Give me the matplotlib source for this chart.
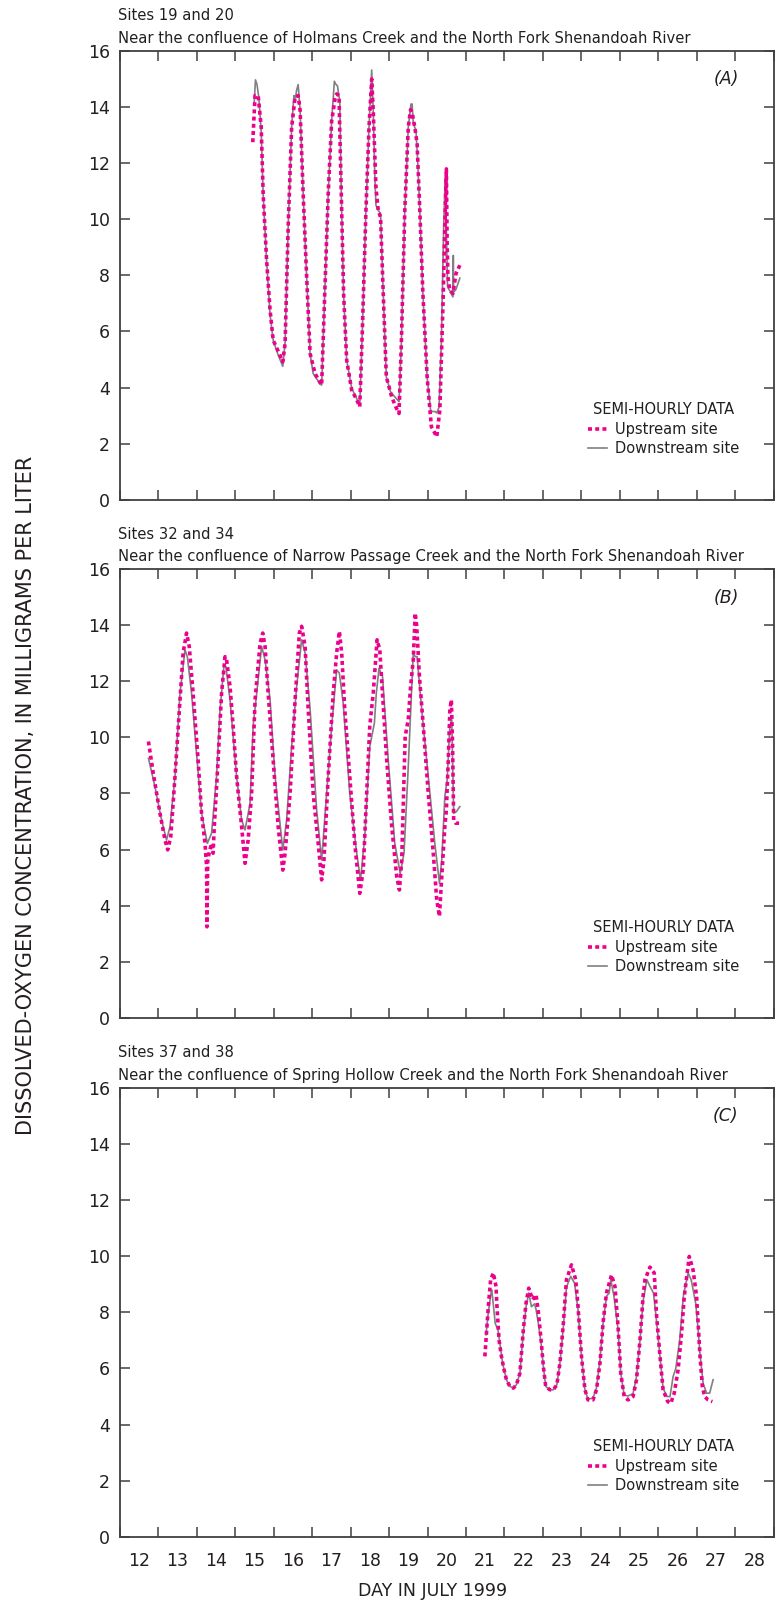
import numpy as np
import matplotlib
matplotlib.use("Agg")
from matplotlib import pyplot as plt
from matplotlib import font_manager as fm

# ---- data: day in July 1999, dissolved oxygen mg/L ----
a_up_t = [15.46, 15.52, 15.60, 15.68, 15.73, 15.82, 15.91, 15.99, 16.12, 16.20, 16.24, 16.30, 16.38, 16.47, 16.56,
          16.64, 16.69, 16.77, 16.86, 16.95, 17.08, 17.20, 17.25, 17.33, 17.42, 17.51, 17.60, 17.64, 17.70, 17.76,
          17.82, 17.90, 18.03, 18.15, 18.24, 18.31, 18.40, 18.48, 18.55, 18.59, 18.66, 18.72, 18.78, 18.85, 18.93,
          19.07, 19.18, 19.26, 19.32, 19.41, 19.50, 19.56, 19.60, 19.67, 19.73, 19.80, 19.88, 19.99, 20.10, 20.24,
          20.32, 20.41, 20.45, 20.49, 20.51, 20.53, 20.58, 20.66, 20.74, 20.84]
a_up_v = [12.74, 14.4, 14.4, 13.27, 10.9, 8.53, 6.76, 5.69, 5.3, 5.05, 4.92, 5.57, 9.72, 13.27, 14.34,
          14.4, 13.87, 10.9, 7.94, 5.21, 4.5, 4.2, 4.09, 7.35, 10.9, 13.5, 14.3, 14.46, 14.4, 10.9,
          7.35, 4.98, 3.91, 3.6, 3.32, 6.16, 10.3, 13.27, 14.99, 13.87, 11.14, 10.31, 10.07, 7.35, 4.38,
          3.67, 3.3, 3.08, 5.57, 10.31, 13.27, 13.9, 13.8, 13.27, 12.68, 10.31, 7.35, 4.38, 2.61, 2.25,
          3.2, 7.35, 9.72, 11.79, 9.13, 7.94, 7.47, 7.35, 8.06, 8.36]
a_dn_t = [15.50, 15.53, 15.57, 15.62, 15.68, 15.73, 15.82, 15.91, 15.99, 16.12, 16.24, 16.30, 16.38, 16.47, 16.53,
          16.56, 16.60, 16.64, 16.69, 16.77, 16.86, 16.95, 17.03, 17.20, 17.25, 17.33, 17.42, 17.51, 17.58, 17.62,
          17.66, 17.72, 17.76, 17.82, 17.90, 18.03, 18.24, 18.31, 18.40, 18.48, 18.55, 18.59, 18.63, 18.66, 18.72,
          18.78, 18.85, 18.93, 19.04, 19.26, 19.32, 19.41, 19.50, 19.57, 19.60, 19.63, 19.70, 19.74, 19.80, 19.88,
          19.99, 20.08, 20.12, 20.20, 20.24, 20.30, 20.36, 20.42, 20.46, 20.50, 20.52, 20.66, 20.67, 20.68, 20.74,
          20.84]
a_dn_v = [14.2, 14.96, 14.8, 14.3, 13.1, 10.9, 8.5, 6.6, 5.69, 5.16, 4.76, 5.6, 9.72, 13.27, 14.4,
          14.2, 14.6, 14.79, 13.87, 10.9, 7.94, 5.21, 4.5, 4.15, 4.09, 7.35, 10.9, 13.5, 14.91, 14.8,
          14.75, 14.2, 10.9, 7.35, 4.98, 3.98, 3.38, 6.16, 10.3, 13.27, 15.31, 13.87, 11.6, 10.5, 10.31,
          10.2, 7.35, 4.38, 3.85, 3.5, 5.57, 10.31, 13.27, 14.1, 14.1, 13.4, 13.16, 12.2, 10.31, 7.35,
          4.38, 3.2, 3.15, 3.15, 3.1, 3.3, 5.6, 9.72, 11.5, 9.0, 7.6, 7.23, 8.71, 7.4, 7.5,
          7.9]

b_up_t = [12.75, 12.875, 13.05, 13.18, 13.25, 13.33, 13.44, 13.57, 13.65, 13.74, 13.81, 13.91, 14.04, 14.13, 14.22,
          14.26, 14.27, 14.29, 14.33, 14.39, 14.43, 14.46, 14.56, 14.65, 14.74, 14.78, 14.87, 14.95, 15.04, 15.17,
          15.26, 15.34, 15.43, 15.52, 15.65, 15.72, 15.78, 15.86, 15.99, 16.12, 16.24, 16.30, 16.43, 16.56, 16.67,
          16.73, 16.82, 16.90, 17.03, 17.16, 17.25, 17.31, 17.42, 17.55, 17.64, 17.71, 17.77, 17.85, 17.98, 18.11,
          18.24, 18.33, 18.42, 18.50, 18.59, 18.69, 18.76, 18.83, 18.94, 19.07, 19.20, 19.27, 19.33, 19.42, 19.50,
          19.56, 19.63, 19.68, 19.72, 19.79, 19.89, 20.02, 20.15, 20.24, 20.31, 20.37, 20.45, 20.49, 20.54, 20.58,
          20.62, 20.65, 20.68, 20.73, 20.82]
b_up_v = [9.85, 8.72, 7.29, 6.34, 5.99, 6.46, 8.6, 11.33, 13.0, 13.71, 13.23, 11.57, 9.19, 7.29, 6.22,
          5.39, 3.25, 5.6, 5.9, 6.22, 5.87, 6.8, 9.19, 11.57, 12.87, 12.76, 11.8, 10.4, 8.6, 6.82,
          5.51, 6.34, 8.0, 11.33, 13.35, 13.71, 13.23, 11.57, 9.19, 6.82, 5.27, 5.87, 8.0, 11.33, 13.71,
          13.95, 13.23, 11.0, 8.0, 6.22, 4.92, 5.63, 8.6, 11.57, 13.0, 13.77, 13.0, 11.0, 8.6, 6.22,
          4.44, 5.27, 8.0, 10.4, 11.57, 13.47, 13.11, 11.57, 9.19, 6.82, 5.04, 4.56, 5.63, 10.03, 10.63,
          11.8, 12.76, 14.42, 13.95, 12.17, 10.4, 8.0, 5.87, 4.2, 3.62, 5.04, 6.82, 7.41, 9.19, 10.97,
          11.33, 9.78, 7.05, 6.94, 6.94]
b_dn_t = [12.75, 12.92, 13.09, 13.22, 13.31, 13.44, 13.57, 13.70, 13.76, 13.87, 14.00, 14.13, 14.28, 14.39, 14.52,
          14.61, 14.71, 14.76, 14.87, 15.04, 15.17, 15.26, 15.39, 15.47, 15.58, 15.69, 15.78, 15.91, 16.04, 16.24,
          16.34, 16.47, 16.60, 16.73, 16.82, 16.95, 17.12, 17.25, 17.38, 17.51, 17.64, 17.71, 17.81, 17.98, 18.16,
          18.26, 18.37, 18.50, 18.62, 18.67, 18.74, 18.83, 18.98, 19.15, 19.29, 19.39, 19.50, 19.59, 19.63, 19.68,
          19.73, 19.85, 20.02, 20.19, 20.31, 20.37, 20.45, 20.51, 20.58, 20.63, 20.68, 20.75, 20.84]
b_dn_v = [9.25, 8.24, 7.05, 6.34, 6.82, 8.6, 11.57, 13.11, 12.87, 11.57, 9.43, 7.29, 6.22, 6.58, 8.6,
          10.97, 12.52, 12.52, 11.33, 8.6, 7.05, 6.7, 7.65, 10.4, 11.8, 13.23, 12.76, 11.33, 8.6, 5.99,
          7.05, 9.67, 11.8, 13.47, 13.0, 11.0, 7.41, 5.63, 8.0, 10.4, 12.4, 12.28, 11.21, 8.0, 5.87,
          4.92, 6.46, 9.67, 10.5, 11.57, 12.46, 12.17, 9.19, 6.22, 5.15, 5.87, 8.96, 11.8, 12.99, 12.87,
          12.87, 10.97, 8.6, 6.22, 4.8, 5.63, 7.89, 8.48, 10.4, 10.63, 7.29, 7.35, 7.53]

c_up_t = [21.49, 21.58, 21.64, 21.71, 21.78, 21.80, 21.86, 21.92, 21.99, 22.05, 22.14, 22.23, 22.31, 22.40, 22.49,
          22.56, 22.63, 22.73, 22.82, 22.88, 22.95, 23.01, 23.07, 23.18, 23.27, 23.36, 23.44, 23.53, 23.61, 23.74,
          23.85, 23.91, 24.00, 24.09, 24.17, 24.30, 24.39, 24.48, 24.56, 24.65, 24.78, 24.87, 24.95, 25.02, 25.11,
          25.21, 25.34, 25.43, 25.52, 25.60, 25.65, 25.78, 25.89, 25.95, 26.04, 26.12, 26.24, 26.32, 26.41, 26.51,
          26.60, 26.67, 26.80, 26.90, 26.99, 27.03, 27.08, 27.14, 27.20, 27.29, 27.40]
c_up_v = [6.43, 8.21, 9.16, 9.4, 8.92, 8.3, 7.0, 6.43, 5.95, 5.6, 5.36, 5.3, 5.42, 5.83, 7.38,
          8.33, 8.86, 8.45, 8.63, 8.0, 7.02, 6.07, 5.36, 5.24, 5.24, 5.42, 6.19, 7.62, 9.16, 9.69,
          9.16, 8.21, 6.43, 5.24, 4.88, 4.88, 5.24, 6.19, 7.62, 8.69, 9.33, 8.92, 7.5, 5.83, 5.0,
          4.88, 5.0, 5.6, 7.02, 8.56, 9.16, 9.61, 9.4, 7.9, 6.43, 5.24, 4.82, 4.76, 5.12, 5.95,
          7.26, 8.56, 9.99, 9.5, 8.57, 7.62, 6.43, 5.36, 5.0, 4.88, 4.82]
c_dn_t = [21.52, 21.58, 21.64, 21.67, 21.70, 21.76, 21.83, 21.88, 21.95, 22.05, 22.14, 22.23, 22.31, 22.40, 22.49,
          22.56, 22.63, 22.70, 22.78, 22.82, 22.88, 22.95, 23.01, 23.07, 23.18, 23.27, 23.36, 23.44, 23.53, 23.61,
          23.72, 23.82, 23.91, 24.00, 24.09, 24.17, 24.30, 24.39, 24.48, 24.56, 24.65, 24.72, 24.76, 24.84, 24.95,
          25.02, 25.11, 25.21, 25.34, 25.43, 25.52, 25.60, 25.70, 25.78, 25.87, 25.95, 26.04, 26.12, 26.22, 26.30,
          26.38, 26.45, 26.55, 26.65, 26.77, 26.85, 26.97, 27.03, 27.08, 27.16, 27.25, 27.33, 27.42]
c_dn_v = [7.2, 8.0, 8.6, 8.8, 8.4, 7.6, 7.38, 6.9, 6.2, 5.6, 5.36, 5.3, 5.42, 5.83, 7.3,
          8.2, 8.69, 8.2, 8.3, 8.1, 7.6, 6.9, 6.07, 5.36, 5.24, 5.24, 5.42, 6.19, 7.5, 8.9,
          9.28, 9.04, 8.1, 6.43, 5.24, 4.9, 4.95, 5.3, 6.3, 7.6, 8.57, 8.69, 9.16, 8.6, 7.4,
          5.83, 5.05, 5.02, 5.1, 5.71, 7.0, 8.4, 9.16, 8.92, 8.69, 7.7, 6.43, 5.3, 5.0, 5.0,
          5.71, 6.0, 7.0, 8.6, 9.4, 9.16, 8.3, 7.4, 6.5, 5.48, 5.12, 5.12, 5.6]

panel_sites = ["Sites 19 and 20", "Sites 32 and 34", "Sites 37 and 38"]
panel_names = ["Near the confluence of Holmans Creek and the North Fork Shenandoah River",
               "Near the confluence of Narrow Passage Creek and the North Fork Shenandoah River",
               "Near the confluence of Spring Hollow Creek and the North Fork Shenandoah River"]
panel_tags = ["(A)", "(B)", "(C)"]
day_labels = [str(d) for d in range(12, 29)]

# ---- font ----
names = {f.name for f in fm.fontManager.ttflist}
fam = "Liberation Sans Narrow" if "Liberation Sans Narrow" in names else "DejaVu Sans"
plt.rcParams['font.family'] = [fam, 'DejaVu Sans']
txt = '#231f20'
pink = '#ec008c'
grey = '#808080'

fig = plt.figure(figsize=(7.79, 16.03), dpi=100)
bottoms = [0.6881, 0.3649, 0.0412]
series = [(a_up_t, a_up_v, a_dn_t, a_dn_v),
          (b_up_t, b_up_v, b_dn_t, b_dn_v),
          (c_up_t, c_up_v, c_dn_t, c_dn_v)]

for i in range(3):
    ax = fig.add_axes([0.1535, bottoms[i], 0.840, 0.2803])
    ut, uv, dt, dv = series[i]
    ax.plot(dt, dv, color=grey, lw=1.2, label="Downstream site", zorder=2)
    ax.plot(ut, uv, color=pink, lw=2.6, ls=(0, (1.1, 0.9)), label="Upstream site", zorder=3)

    ax.set_xlim(12, 29)
    ax.set_ylim(0, 16)
    ax.set_yticks(np.arange(0, 17, 2))
    ax.set_xticks(np.arange(12, 30))
    ax.set_xticklabels([])
    ax.set_xticks(np.arange(12.5, 29), minor=True)
    if i == 2:
        ax.set_xticklabels(day_labels, minor=True)
    ax.tick_params(which='major', direction='in', top=True, right=True, length=7,
                   width=1.1, color='#404040', labelsize=12.5, labelcolor=txt, pad=7)
    ax.tick_params(which='minor', length=0, labelsize=12.5, labelcolor=txt, pad=11)
    for s in ax.spines.values():
        s.set_color('#404040')
        s.set_linewidth(1.3)

    ax.annotate(panel_sites[i], xy=(0, 1), xycoords='axes fraction', xytext=(-1, 25),
                textcoords='offset points', ha='left', va='center', fontsize=10.6, color=txt)
    ax.annotate(panel_names[i], xy=(0, 1), xycoords='axes fraction', xytext=(-1, 8.6),
                textcoords='offset points', ha='left', va='center', fontsize=10.6, color=txt)
    ax.text(0.946, 0.936, panel_tags[i], transform=ax.transAxes, ha='right', va='center',
            fontsize=12.5, style='italic', color=txt)

    h, l = ax.get_legend_handles_labels()
    leg = ax.legend(h[::-1], l[::-1], title="SEMI-HOURLY DATA", loc='lower right',
                    bbox_to_anchor=(0.962, 0.075), frameon=False, fontsize=10.5,
                    title_fontsize=10.5, handlelength=1.3, handletextpad=0.5,
                    labelspacing=0.3, borderpad=0.2)
    for t in leg.get_texts():
        t.set_color(txt)
    leg.get_title().set_color(txt)

fig.text(0.033, 0.504, "DISSOLVED-OXYGEN CONCENTRATION, IN MILLIGRAMS PER LITER",
         rotation=90, ha='center', va='center', fontsize=15, color=txt)
fig.text(0.555, 0.0077, "DAY IN JULY 1999", ha='center', va='center', fontsize=12.5, color=txt)

fig.savefig("out.png", dpi=100)
